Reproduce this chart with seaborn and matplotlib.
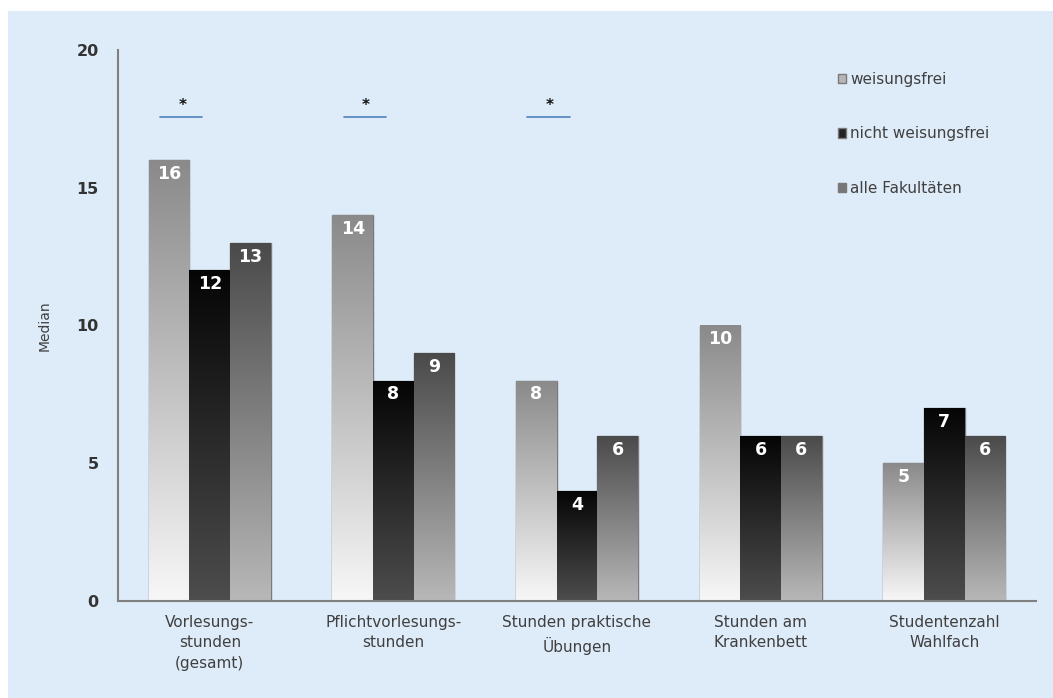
import numpy as np
import pandas as pd
import matplotlib
matplotlib.use("Agg")
import matplotlib.pyplot as plt
from matplotlib.colors import LinearSegmentedColormap
from matplotlib.patches import Rectangle
import seaborn as sns

categories = ["Vorlesungs-\nstunden\n(gesamt)", "Pflichtvorlesungs-\nstunden",
              "Stunden praktische\nÜbungen", "Stunden am\nKrankenbett",
              "Studentenzahl\nWahlfach"]
series = ["weisungsfrei", "nicht weisungsfrei", "alle Fakultäten"]
weisungsfrei = [16, 14, 8, 10, 5]
nicht_weisungsfrei = [12, 8, 4, 6, 7]
alle_fakultaeten = [13, 9, 6, 6, 6]
significant = [0, 1, 2]  # groups marked with *

df = pd.DataFrame({
    "Kategorie": categories * 3,
    "Gruppe": [s for s in series for _ in categories],
    "Median": weisungsfrei + nicht_weisungsfrei + alle_fakultaeten,
})

# gradient top -> bottom per series
grads = {
    "weisungsfrei": ("#8a8a8a", "#f7f7f7"),
    "nicht weisungsfrei": ("#050505", "#4d4d4d"),
    "alle Fakultäten": ("#4a4a4a", "#b8b8b8"),
}
mid = {k: LinearSegmentedColormap.from_list(k, v)(0.4) for k, v in grads.items()}

sns.set_style("white")
plt.rcParams["font.family"] = ["DejaVu Sans"]

fig = plt.figure(figsize=(10.53, 6.98), dpi=100)
fig.patches.append(Rectangle((8 / 1053, 0), 1, 1 - 11 / 698, transform=fig.transFigure,
                             facecolor="#deebf8", edgecolor="none", zorder=-10))
ax = fig.add_axes([118 / 1053, 1 - 601 / 698, (1036 - 118) / 1053, (601 - 50) / 698])
ax.set_facecolor("none")

sns.barplot(data=df, x="Kategorie", y="Median", hue="Gruppe", hue_order=series,
            palette=mid, width=0.665, gap=0, edgecolor="#7a7a7a", linewidth=1,
            ax=ax, legend=True)

for cont, name in zip(ax.containers, series):
    cmap = LinearSegmentedColormap.from_list(name, grads[name])
    grad = np.linspace(0, 1, 256).reshape(-1, 1)
    for bar in cont:
        x0, w, h = bar.get_x(), bar.get_width(), bar.get_height()
        im = ax.imshow(grad, cmap=cmap, aspect="auto", origin="upper",
                       extent=(x0, x0 + w, 0, h), zorder=bar.get_zorder() + 0.1)
        im.set_clip_path(bar)
        ax.annotate(f"{h:.0f}", (x0 + w / 2, h), xytext=(0, -10),
                    textcoords="offset points", ha="center", va="center",
                    color="white", fontsize=12.5, fontweight="bold",
                    zorder=bar.get_zorder() + 1)

ax.set_xlim(-0.5, len(categories) - 0.5)
ax.set_ylim(0, 20)
ax.set_yticks([0, 5, 10, 15, 20])
ax.tick_params(axis="y", length=6, width=1.2, color="#808080", labelsize=11.5,
               labelcolor="#333333", pad=8)
for t in ax.get_yticklabels():
    t.set_fontweight("bold")
ax.tick_params(axis="x", which="major", length=0, labelsize=11, labelcolor="#404040", pad=10)
for t in ax.get_xticklabels():
    t.set_linespacing(1.45)
ax.set_xticks(np.arange(-0.5, len(categories)), minor=True)
ax.tick_params(axis="x", which="minor", length=6, width=1.2, color="#808080")
ax.set_xlabel("")
ax.set_ylabel("Median", fontsize=10, color="#404040", labelpad=18)
sns.despine(ax=ax)
for s in ["left", "bottom"]:
    ax.spines[s].set_color("#808080")
    ax.spines[s].set_linewidth(1.5)

for i in significant:
    ax.plot([i - 0.27, i - 0.04], [17.55, 17.55], color="#4f81bd", lw=1.2)
    ax.text(i - 0.15, 18.0, "*", ha="center", va="center", fontsize=11,
            fontweight="bold", color="#111111")

leg = ax.legend(loc="upper left", bbox_to_anchor=(824 / 1053, 1 - 58 / 698),
                bbox_transform=fig.transFigure, frameon=False, fontsize=11,
                handlelength=0.55, handleheight=0.55, handletextpad=0.25,
                labelspacing=2.6)
for t in leg.get_texts():
    t.set_color("#404040")

fig.savefig("out.png", dpi=100)
